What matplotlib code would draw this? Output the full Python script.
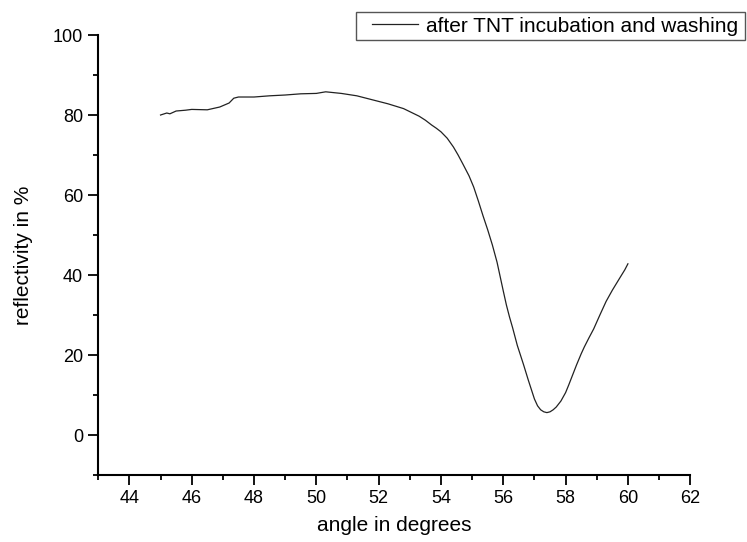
import matplotlib
matplotlib.use("Agg")
import matplotlib.pyplot as plt
from matplotlib.patches import Rectangle
from matplotlib.ticker import MultipleLocator

# reflectivity curve
angle = [45.0, 45.2, 45.3, 45.5, 45.8, 46.0, 46.5, 46.9, 47.2, 47.35, 47.5,
         48.0, 48.5, 49.0, 49.5, 50.0, 50.3, 50.8, 51.3, 51.8, 52.3, 52.8,
         53.3, 53.5, 53.7, 53.85, 54.0, 54.2, 54.4, 54.55, 54.7, 54.9, 55.05,
         55.2, 55.35, 55.5, 55.65, 55.8, 55.9, 56.0, 56.1, 56.2, 56.3, 56.45,
         56.65, 56.8, 57.0, 57.1, 57.2, 57.3, 57.4, 57.5, 57.6, 57.7, 57.85,
         58.0, 58.1, 58.2, 58.35, 58.5, 58.6, 58.75, 58.9, 59.1, 59.3, 59.5,
         59.75, 59.9, 60.0]
reflectivity = [80.0, 80.5, 80.3, 81.0, 81.2, 81.4, 81.3, 82.0, 83.0, 84.2, 84.5,
                84.5, 84.8, 85.0, 85.3, 85.4, 85.8, 85.4, 84.8, 83.8, 82.8, 81.6,
                79.7, 78.7, 77.5, 76.7, 75.8, 74.2, 72.0, 70.0, 67.8, 64.8, 62.0,
                58.5, 54.8, 51.3, 47.5, 43.2, 39.6, 36.0, 32.5, 29.5, 26.8, 22.4,
                17.6, 13.8, 9.0, 7.3, 6.3, 5.8, 5.6, 5.8, 6.3, 7.0, 8.5,
                10.6, 12.5, 14.5, 17.5, 20.3, 22.0, 24.3, 26.5, 30.0, 33.4, 36.2,
                39.4, 41.3, 42.8]
label = "after TNT incubation and washing"

plt.rcParams["font.family"] = ["Liberation Sans", "DejaVu Sans"]

W, H = 747, 542
fig = plt.figure(figsize=(W / 100, H / 100), dpi=100)
ax = fig.add_axes([0.1315, 0.1236, 0.7925, 0.8118])

ax.plot(angle, reflectivity, color="#222222", linewidth=0.9, label=label)

ax.set_xlim(43, 62)
ax.set_ylim(-10, 100)
ax.xaxis.set_major_locator(MultipleLocator(2))
ax.xaxis.set_minor_locator(MultipleLocator(1))
ax.yaxis.set_major_locator(MultipleLocator(20))
ax.yaxis.set_minor_locator(MultipleLocator(10))

for side in ["top", "right"]:
    ax.spines[side].set_visible(False)
for side in ["left", "bottom"]:
    ax.spines[side].set_linewidth(1.5)

ax.tick_params(which="major", direction="out", length=7, width=1.3,
               labelsize=13, pad=4)
ax.tick_params(which="minor", direction="out", length=3.5, width=1.3)

ax.set_xlabel("angle in degrees", fontsize=15, labelpad=6)
ax.set_ylabel("reflectivity in %", fontsize=15, labelpad=14)

# legend frame sits partly outside the axes, as in the original
fig.patches.append(Rectangle((356 / W, 1 - 40 / H), (745 - 356) / W, 28 / H,
                             transform=fig.transFigure, fill=True,
                             facecolor="white", edgecolor="#555555",
                             linewidth=1.0, zorder=3))
fig.legend(loc="center right", bbox_to_anchor=(738 / W, 1 - 26 / H),
           borderaxespad=0, borderpad=0, fontsize=15, frameon=False,
           handlelength=2.2, handletextpad=0.4)

fig.savefig("out.png", dpi=100)
